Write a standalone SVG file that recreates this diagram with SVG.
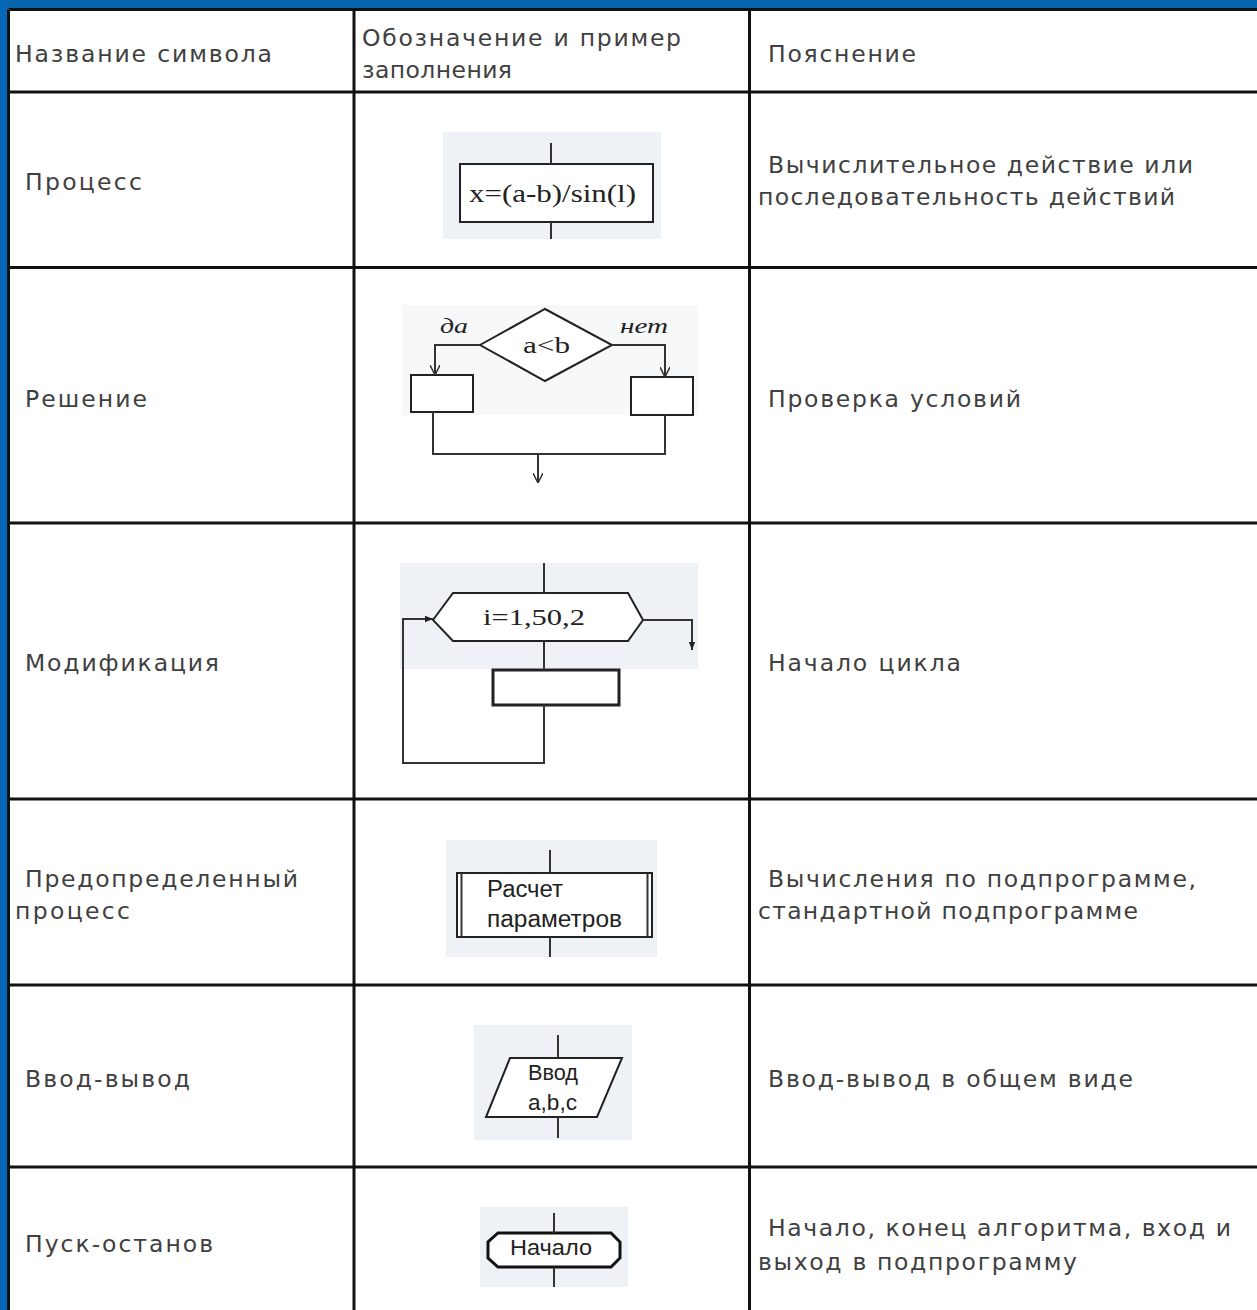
<svg xmlns="http://www.w3.org/2000/svg" width="1257" height="1310" viewBox="0 0 1257 1310">
<defs>
<style>
.cell{font-family:"DejaVu Sans","Verdana",sans-serif;font-size:23.5px;fill:#404040}
.grid{stroke:#111;stroke-width:3;fill:none}
.bg{fill:#eef2f7}
.sh{fill:#fff;stroke:#222;stroke-width:2}
.ln{stroke:#333;stroke-width:2;fill:none}
.ser{font-family:"Liberation Serif","Times New Roman",serif;fill:#222}
.sans{font-family:"Liberation Sans","Arial",sans-serif;fill:#222}
</style>
<marker id="vhead" viewBox="0 0 10 10" refX="10" refY="5" markerWidth="10" markerHeight="10" markerUnits="userSpaceOnUse" orient="auto">
<path d="M0,0 L10,5 L0,10" fill="none" stroke="#333" stroke-width="1.5"/>
</marker>
<marker id="fhead" viewBox="0 0 10 10" refX="10" refY="5" markerWidth="8" markerHeight="8" markerUnits="userSpaceOnUse" orient="auto">
<path d="M0,1 L10,5 L0,9 Z" fill="#222"/>
</marker>
</defs>
<rect x="0" y="0" width="1257" height="1310" fill="#fff"/>
<rect x="0" y="0" width="1257" height="9" fill="#0865b0"/>
<rect x="0" y="0" width="8" height="1310" fill="#0868b8"/>

<g id="table">
<path class="grid" d="M8.5,9.5 H1257 M8.5,9.5 V1310 M354,9 V1310 M749.5,9 V1310 M8,92 H1257 M8,267.5 H1257 M8,523 H1257 M8,799 H1257 M8,985 H1257 M8,1167 H1257"/>
</g>

<g id="header">
<text class="cell" x="15" y="62" textLength="257" lengthAdjust="spacing">Название символа</text>
<text class="cell" x="362" y="46" textLength="319" lengthAdjust="spacing">Обозначение и пример</text>
<text class="cell" x="362" y="78" textLength="150" lengthAdjust="spacing">заполнения</text>
<text class="cell" x="768" y="62" textLength="148" lengthAdjust="spacing">Пояснение</text>
</g>

<g id="row-process">
<text class="cell" x="25" y="190" textLength="117" lengthAdjust="spacing">Процесс</text>
<text class="cell" x="768" y="173" textLength="425" lengthAdjust="spacing">Вычислительное действие или</text>
<text class="cell" x="758" y="205" textLength="417" lengthAdjust="spacing">последовательность действий</text>
</g>
<g id="node-process">
<rect class="bg" x="443" y="132" width="218" height="107"/>
<rect class="sh" x="460" y="164" width="193" height="58"/>
<text class="ser" x="469" y="202" font-size="26" textLength="167" lengthAdjust="spacingAndGlyphs">x=(a-b)/sin(l)</text>
</g>

<g id="row-decision">
<text class="cell" x="25" y="407" textLength="122" lengthAdjust="spacing">Решение</text>
<text class="cell" x="768" y="407" textLength="253" lengthAdjust="spacing">Проверка условий</text>
</g>
<g id="node-decision">
<rect x="402" y="305" width="296" height="110" fill="#f6f8fa"/>
<polygon class="sh" points="480,345 545,309 612,345 545,381"/>
<text class="ser" x="523" y="353" font-size="24" textLength="47" lengthAdjust="spacingAndGlyphs">a&lt;b</text>
<text class="ser" x="440" y="333" font-size="20" font-style="italic" textLength="28" lengthAdjust="spacingAndGlyphs">да</text>
<text class="ser" x="620" y="333" font-size="20" font-style="italic" textLength="48" lengthAdjust="spacingAndGlyphs">нет</text>
<rect class="sh" x="411" y="375" width="62" height="37"/>
<rect class="sh" x="631" y="377" width="62" height="38"/>
</g>

<g id="row-loop">
<text class="cell" x="25" y="671" textLength="194" lengthAdjust="spacing">Модификация</text>
<text class="cell" x="768" y="671" textLength="193" lengthAdjust="spacing">Начало цикла</text>
</g>
<g id="node-loop">
<rect class="bg" x="400" y="563" width="298" height="106"/>
<polygon class="sh" points="433,620 453,593 628,593 643,620 628,641 453,641"/>
<text class="ser" x="483" y="625" font-size="24" textLength="102" lengthAdjust="spacingAndGlyphs">i=1,50,2</text>
<rect x="493" y="670" width="126" height="35" fill="#fff" stroke="#222" stroke-width="3"/>
</g>

<g id="row-subroutine">
<text class="cell" x="25" y="887" textLength="273" lengthAdjust="spacing">Предопределенный</text>
<text class="cell" x="15" y="919" textLength="115" lengthAdjust="spacing">процесс</text>
<text class="cell" x="768" y="887" textLength="428" lengthAdjust="spacing">Вычисления по подпрограмме,</text>
<text class="cell" x="758" y="919" textLength="380" lengthAdjust="spacing">стандартной подпрограмме</text>
</g>
<g id="node-subroutine">
<rect class="bg" x="446" y="840" width="211" height="117"/>
<rect class="sh" x="457" y="873" width="195" height="64"/>
<line class="ln" x1="461.5" y1="873" x2="461.5" y2="937"/>
<line class="ln" x1="647.5" y1="873" x2="647.5" y2="937"/>
<text class="sans" x="487" y="897" font-size="23" textLength="76" lengthAdjust="spacingAndGlyphs">Расчет</text>
<text class="sans" x="487" y="927" font-size="23" textLength="135" lengthAdjust="spacingAndGlyphs">параметров</text>
</g>

<g id="row-io">
<text class="cell" x="25" y="1087" textLength="165" lengthAdjust="spacing">Ввод-вывод</text>
<text class="cell" x="768" y="1087" textLength="365" lengthAdjust="spacing">Ввод-вывод в общем виде</text>
</g>
<g id="node-io">
<rect class="bg" x="474" y="1025" width="158" height="115"/>
<polygon class="sh" points="510,1058 622,1058 597,1117 486,1117"/>
<text class="sans" x="528" y="1080" font-size="22" textLength="50" lengthAdjust="spacingAndGlyphs">Ввод</text>
<text class="sans" x="528" y="1110" font-size="22" textLength="49" lengthAdjust="spacingAndGlyphs">a,b,c</text>
</g>

<g id="row-terminal">
<text class="cell" x="25" y="1252" textLength="188" lengthAdjust="spacing">Пуск-останов</text>
<text class="cell" x="768" y="1236" textLength="463" lengthAdjust="spacing">Начало, конец алгоритма, вход и</text>
<text class="cell" x="758" y="1270" textLength="319" lengthAdjust="spacing">выход в подпрограмму</text>
</g>
<g id="node-terminal">
<rect class="bg" x="480" y="1207" width="148" height="80"/>
<path d="M498,1233 H611 L620,1242 V1258 L611,1267 H498 L488,1258 V1242 Z" fill="#fff" stroke="#111" stroke-width="3"/>
<text class="sans" x="510" y="1255" font-size="22" textLength="82" lengthAdjust="spacingAndGlyphs">Начало</text>
</g>

<g id="connectors">
<path class="ln" d="M551,143 V164 M551,222 V239"/>
<path class="ln" d="M480,345 H435 V375" marker-end="url(#vhead)"/>
<path class="ln" d="M612,345 H665 V377" marker-end="url(#vhead)"/>
<path class="ln" d="M433,412 V454 H665 V415"/>
<path class="ln" d="M538,454 V483" marker-end="url(#vhead)"/>
<path class="ln" d="M544,563 V593 M544,641 V670"/>
<path class="ln" d="M544,705 V763 H403 V619 H433" marker-end="url(#fhead)"/>
<path class="ln" d="M643,620 H692 V650" marker-end="url(#fhead)"/>
<path class="ln" d="M550,850 V873 M550,937 V957"/>
<path class="ln" d="M558,1035 V1058 M558,1117 V1138"/>
<path class="ln" d="M554,1213 V1233 M554,1267 V1287"/>
</g>
</svg>
